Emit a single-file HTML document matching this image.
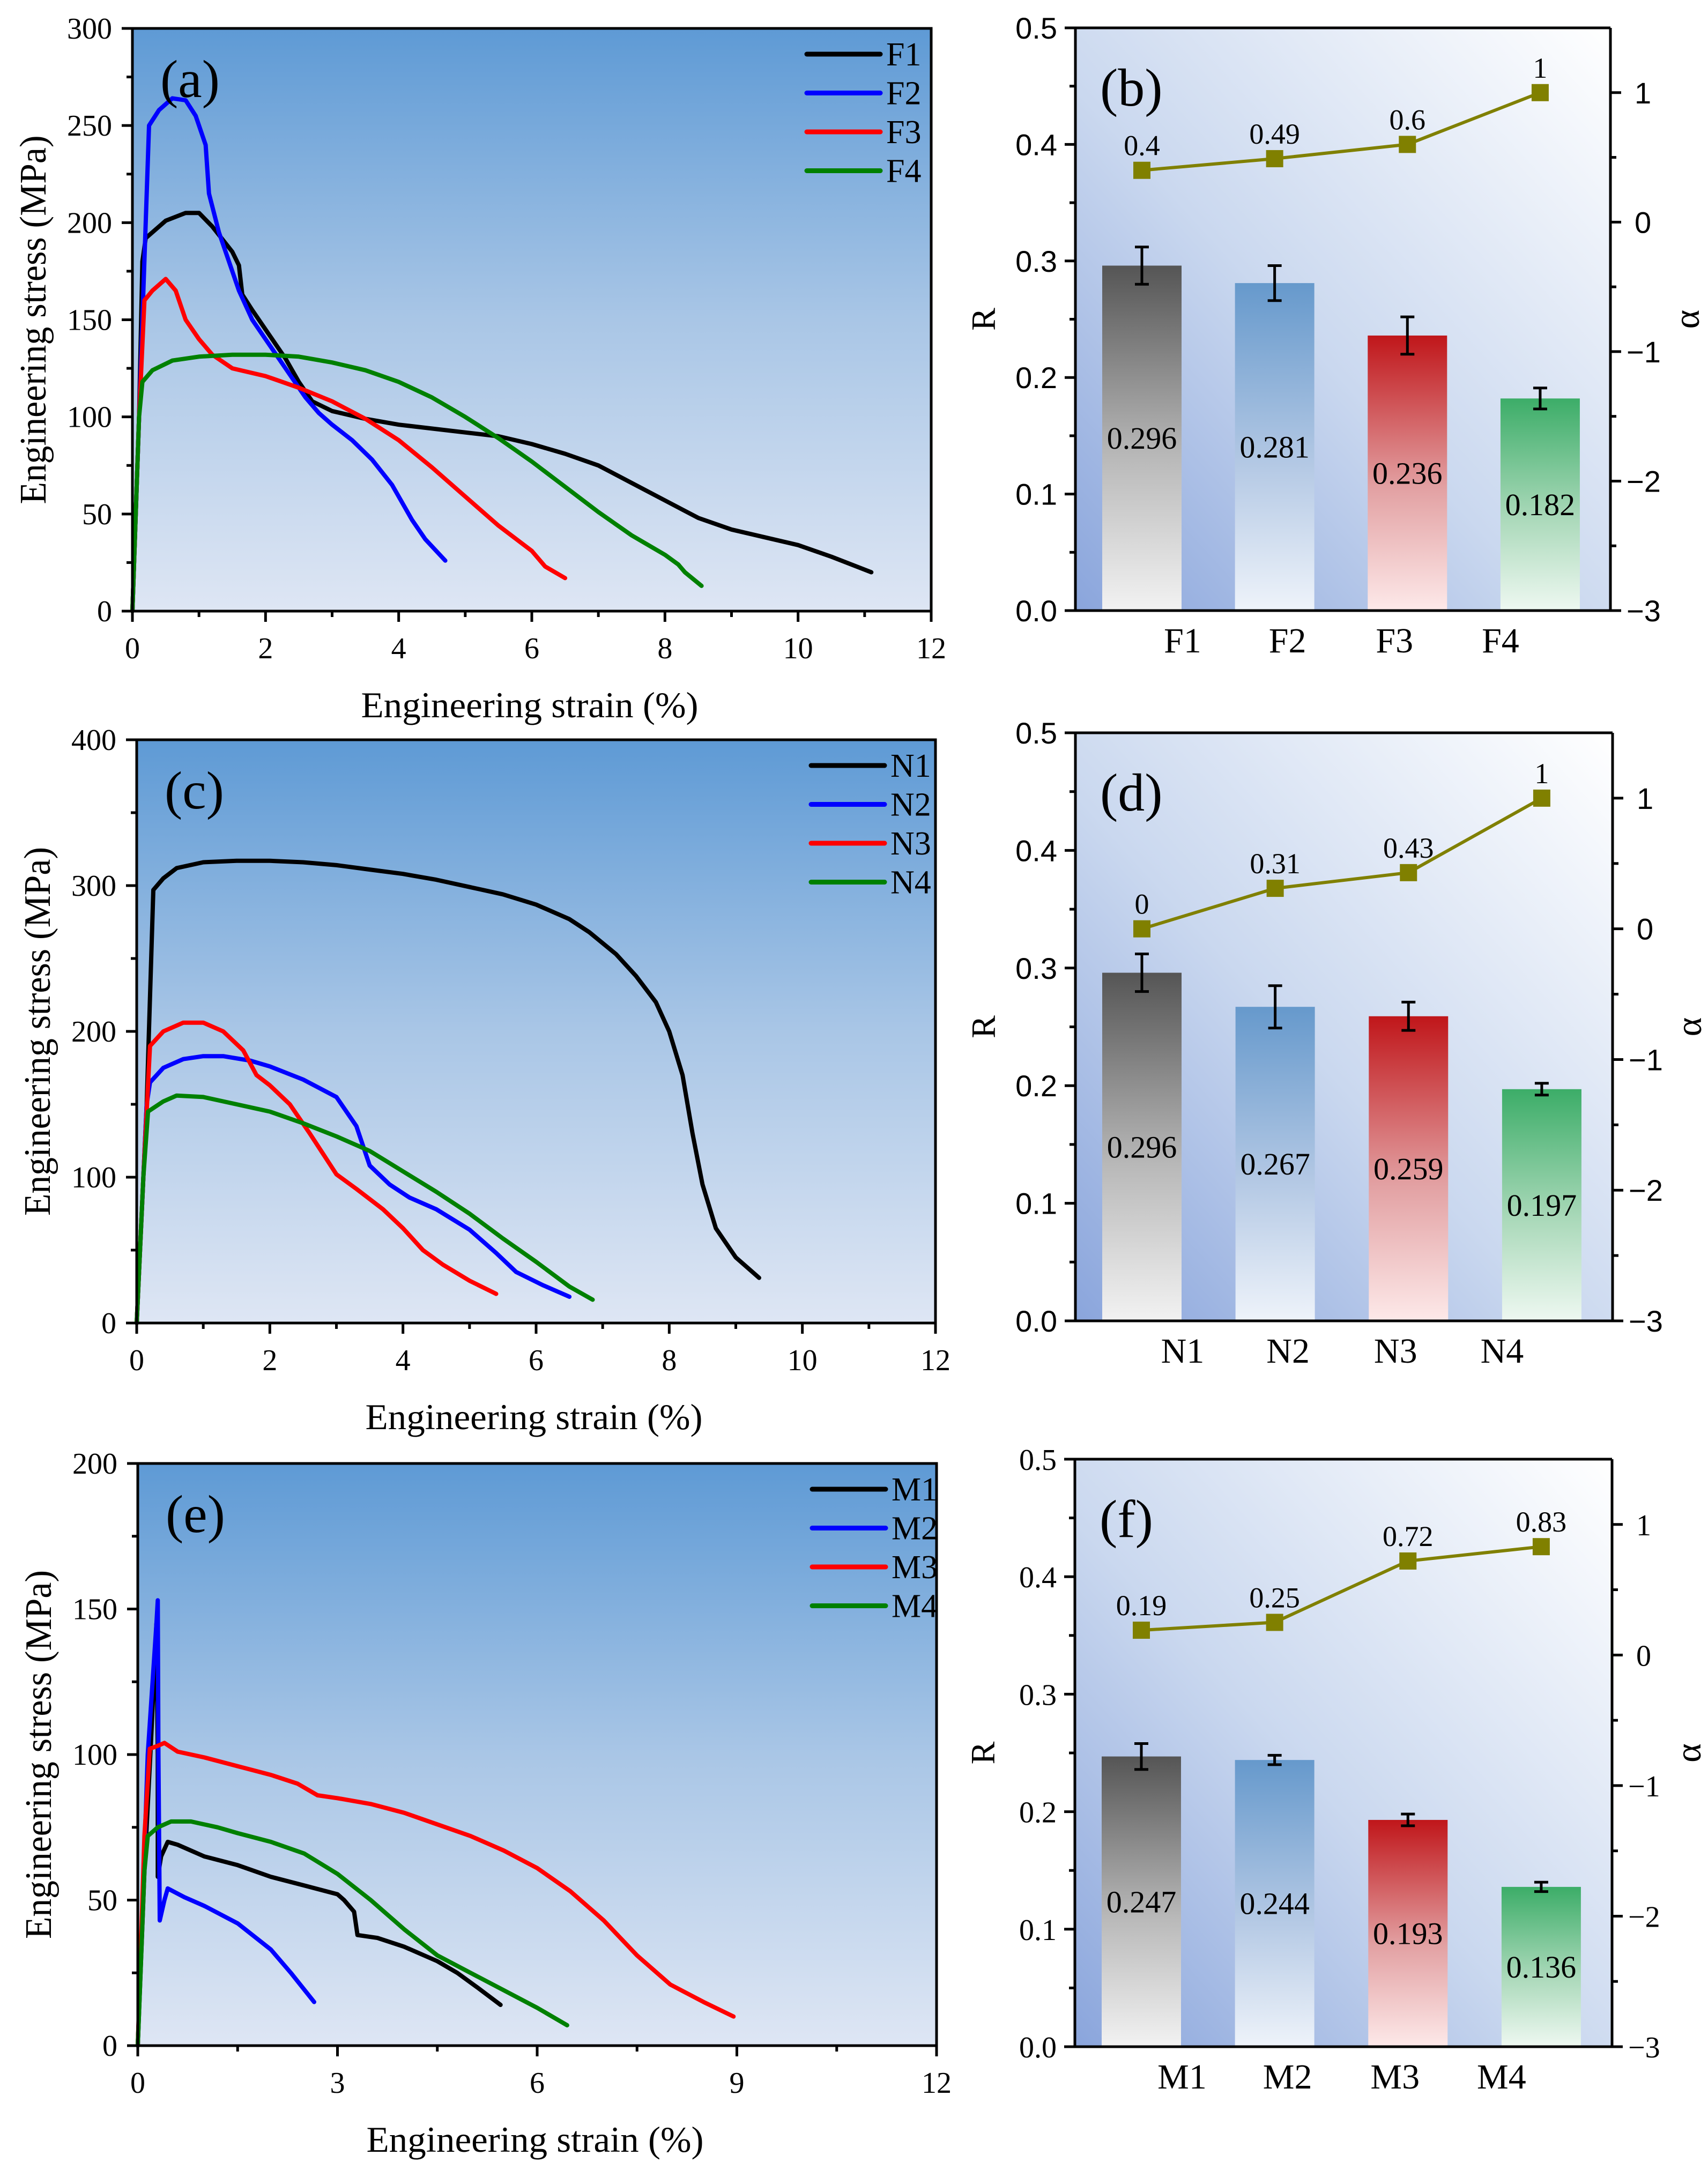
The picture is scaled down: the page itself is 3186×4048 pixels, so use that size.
<!DOCTYPE html>
<html><head><meta charset="utf-8"><style>
html,body{margin:0;padding:0;background:#fff}
svg{display:block}
</style></head><body>
<svg id="fig" xmlns="http://www.w3.org/2000/svg" width="3186" height="4048" viewBox="0 0 3186 4048">
<defs>
<linearGradient id="bgL" x1="0" y1="0" x2="0" y2="1"><stop offset="0" stop-color="#5e9ad5"/><stop offset="0.5" stop-color="#a9c6e6"/><stop offset="1" stop-color="#dee6f4"/></linearGradient>
<linearGradient id="bgR" x1="0" y1="1" x2="1" y2="0"><stop offset="0" stop-color="#8aa5dc"/><stop offset="0.45" stop-color="#cad8ef"/><stop offset="1" stop-color="#ffffff"/></linearGradient>
<linearGradient id="gBlack" x1="0" y1="0" x2="0" y2="1"><stop offset="0" stop-color="#555"/><stop offset="0.55" stop-color="#b8b8b8"/><stop offset="1" stop-color="#f2f2f2"/></linearGradient>
<linearGradient id="gBlue" x1="0" y1="0" x2="0" y2="1"><stop offset="0" stop-color="#6699cc"/><stop offset="0.55" stop-color="#b3c8e4"/><stop offset="1" stop-color="#eef3fa"/></linearGradient>
<linearGradient id="gRed" x1="0" y1="0" x2="0" y2="1"><stop offset="0" stop-color="#c0161a"/><stop offset="0.55" stop-color="#e2a0a2"/><stop offset="1" stop-color="#fde9e9"/></linearGradient>
<linearGradient id="gGreen" x1="0" y1="0" x2="0" y2="1"><stop offset="0" stop-color="#3cad68"/><stop offset="0.55" stop-color="#a8d8b8"/><stop offset="1" stop-color="#eef8f1"/></linearGradient>
</defs>
</svg>
<script>
// ---------- Panel (a) data ----------
const fLabels = ['F1','F2','F3','F4'];
const f1x=[0,0.1,0.15,0.2,0.5,0.8,1.0,1.2,1.5,1.6,1.65,1.8,2.0,2.3,2.5,2.7,3.0,3.5,4.0,5,5.5,6,6.5,7,7.5,8,8.5,9,9.5,10,10.5,11.1];
const f1y=[0,100,180,192,201,205,205,198,185,178,163,155,145,130,118,108,103,99,96,92,90,86,81,75,66,57,48,42,38,34,28,20];
const f2x=[0,0.15,0.25,0.4,0.6,0.8,0.95,1.1,1.15,1.3,1.6,1.8,2.0,2.3,2.6,2.8,3.0,3.3,3.6,3.9,4.2,4.4,4.7];
const f2y=[0,150,250,258,264,263,255,240,215,195,165,150,140,125,110,102,96,88,78,65,47,37,26];
const f3x=[0,0.1,0.18,0.3,0.5,0.65,0.8,1.0,1.2,1.5,2.0,2.5,3.0,3.5,4,4.5,5,5.5,6,6.2,6.5];
const f3y=[0,100,160,165,171,165,150,140,132,125,121,115,108,99,88,74,59,44,31,23,17];
const f4x=[0,0.1,0.15,0.3,0.6,1,1.5,2,2.5,3,3.5,4,4.5,5,5.5,6,6.5,7,7.5,8,8.2,8.3,8.55];
const f4y=[0,100,118,124,129,131,132,132,131,128,124,118,110,100,89,77,64,51,39,29,24,20,13];
// ---------- Panel (c) data ----------
const nLabels = ['N1','N2','N3','N4'];
const n1x=[0,0.05,0.15,0.25,0.4,0.6,1.0,1.5,2,2.5,3,3.5,4,4.5,5,5.5,6,6.5,6.8,7.2,7.5,7.8,8,8.2,8.35,8.5,8.7,9,9.35];
const n1y=[0,50,150,297,305,312,316,317,317,316,314,311,308,304,299,294,287,277,268,253,238,220,200,170,130,95,65,45,31];
const n2x=[0,0.15,0.2,0.4,0.7,1.0,1.3,1.7,2,2.5,3,3.3,3.5,3.8,4.1,4.5,5,5.4,5.7,6.1,6.5];
const n2y=[0,150,165,175,181,183,183,180,176,167,155,135,108,95,86,78,64,48,35,26,18];
const n3x=[0,0.1,0.2,0.4,0.7,1,1.3,1.6,1.8,2.0,2.3,2.6,2.8,3.0,3.3,3.7,4.0,4.3,4.6,5.0,5.4];
const n3y=[0,100,190,200,206,206,200,187,170,163,150,130,116,102,92,78,65,50,40,29,20];
const n4x=[0,0.1,0.17,0.4,0.6,1,1.5,2,2.5,3,3.5,4,4.5,5,5.5,6,6.5,6.85];
const n4y=[0,100,145,152,156,155,150,145,137,128,118,104,90,75,58,42,25,16];
// ---------- Panel (e) data ----------
const mLabels = ['M1','M2','M3','M4'];
const m1x=[0,0.1,0.2,0.28,0.3,0.3,0.35,0.45,0.6,1,1.5,2,2.5,3,3.1,3.25,3.3,3.6,4,4.5,4.8,5.1,5.45];
const m1y=[0,60,105,145,100,58,65,70,69,65,62,58,55,52,50,46,38,37,34,29,25,20,14];
const m2x=[0,0.15,0.28,0.3,0.31,0.33,0.4,0.45,0.7,1,1.5,2,2.3,2.65];
const m2y=[0,100,145,153,100,43,50,54,51,48,42,33,25,15];
const m3x=[0,0.1,0.18,0.3,0.4,0.6,1,1.5,2,2.4,2.7,3,3.5,4,4.5,5,5.5,6,6.5,7,7.5,8,8.5,8.95];
const m3y=[0,72,102,103,104,101,99,96,93,90,86,85,83,80,76,72,67,61,53,43,31,21,15,10];
const m4x=[0,0.1,0.15,0.3,0.5,0.8,1.2,1.5,2,2.5,3,3.5,4,4.5,5,5.5,6,6.45];
const m4y=[0,60,72,75,77,77,75,73,70,66,59,50,40,31,25,19,13,7];
// ---------- Bar panels data ----------
const fR=[0.296,0.281,0.236,0.182]; const fErr=[0.016,0.015,0.016,0.009]; const fAlpha=[0.4,0.49,0.6,1];
const fRText=['0.296','0.281','0.236','0.182']; const fAlphaText=['0.4','0.49','0.6','1'];
const nR=[0.296,0.267,0.259,0.197]; const nErr=[0.016,0.018,0.012,0.005]; const nAlpha=[0,0.31,0.43,1];
const nRText=['0.296','0.267','0.259','0.197']; const nAlphaText=['0','0.31','0.43','1'];
const mR=[0.247,0.244,0.193,0.136]; const mErr=[0.011,0.004,0.005,0.004]; const mAlpha=[0.19,0.25,0.72,0.83];
const mRText=['0.247','0.244','0.193','0.136']; const mAlphaText=['0.19','0.25','0.72','0.83'];
const rTicks=['0.0','0.1','0.2','0.3','0.4','0.5'];
const alphaTicks=['−3','−2','−1','0','1'];

const NS='http://www.w3.org/2000/svg';
const svg=document.getElementById('fig');
function mk(tag,attrs,parent){const e=document.createElementNS(NS,tag);for(const k in attrs)e.setAttribute(k,attrs[k]);(parent||svg).appendChild(e);return e;}
function txt(s,attrs,parent){const e=mk('text',attrs,parent);e.textContent=s;return e;}
const SERIF='"Liberation Serif", serif', SANS='"Liberation Sans", sans-serif';
const colors=['#000000','#0000ff','#ff0000','#008000'];

function linePanel(o){
  const g=mk('g',{});
  
  
  const X=v=>o.L+(v-0)/(o.xmax)*(o.R-o.L);
  const Y=v=>o.B-(v/o.ymax)*(o.B-o.T);
  const bg=mk('rect',{x:o.L,y:o.T,width:o.R-o.L,height:o.B-o.T,fill:'url(#bgL)'},g);
  
  
  o.series.forEach((s,i)=>{
    const d=s[0].map((x,j)=>(j?'L':'M')+X(x).toFixed(1)+' '+Y(s[1][j]).toFixed(1)).join(' ');
    const p=mk('path',{d:d,fill:'none',stroke:colors[i],'stroke-width':8,'stroke-linejoin':'round','stroke-linecap':'round'},g);
    
    
  });
  mk('rect',{x:o.L,y:o.T,width:o.R-o.L,height:o.B-o.T,fill:'none',stroke:'#000','stroke-width':5},g);
  for(let v=0;v<=o.ymax+1e-9;v+=o.ymin){
    const major=Math.abs(v/o.ymaj-Math.round(v/o.ymaj))<1e-6;
    mk('line',{x1:o.L,x2:o.L-(major?20:11),y1:Y(v),y2:Y(v),stroke:'#000','stroke-width':5},g);
    if(major){const t=txt(String(v),{x:o.L-38,y:Y(v)+19,'text-anchor':'end','font-family':SERIF,'font-size':56},g);
      }
  }
  for(let v=0;v<=o.xmax+1e-9;v+=o.xmin){
    const major=Math.abs(v/o.xmaj-Math.round(v/o.xmaj))<1e-6;
    mk('line',{x1:X(v),x2:X(v),y1:o.B,y2:o.B+(major?20:11),stroke:'#000','stroke-width':5},g);
    if(major){const t=txt(String(v),{x:X(v),y:o.B+88,'text-anchor':'middle','font-family':SERIF,'font-size':56},g);
      }
  }
  const xt=txt('Engineering strain (%)',{x:(o.L+o.R)/2-4,y:o.B+198,'text-anchor':'middle','font-family':SERIF,'font-size':68,textLength:629,lengthAdjust:'spacingAndGlyphs'},g);
  
  const cy=(o.T+o.B)/2;
  const yt=txt('Engineering stress (MPa)',{x:0,y:0,'text-anchor':'middle','font-family':SERIF,'font-size':70,textLength:688,lengthAdjust:'spacingAndGlyphs',transform:`translate(${o.L-162},${cy}) rotate(-90)`},g);
  
  const pl=txt(o.tag,{x:o.L+52,y:o.T+128,'font-family':SERIF,'font-size':100},g);
  
  o.labels.forEach((lab,i)=>{
    const ly=o.T+48+i*72.5;
    const l=mk('line',{x1:o.R-232,x2:o.R-95,y1:ly,y2:ly,stroke:colors[i],'stroke-width':9,'stroke-linecap':'round'},g);
    
    const t=txt(lab,{x:o.R-84,y:ly+21,'font-family':SERIF,'font-size':62},g);
    
  });
}

function barPanel(o){
  const g=mk('g',{});
  
  
  const Y=v=>o.B-(v/0.5)*(o.B-o.T);
  const A=v=>o.B-((v+3)/4.5)*(o.B-o.T);
  const step=(o.R-o.L)/4.03;
  const X=i=>o.L+124+i*step;
  const bg=mk('rect',{x:o.L,y:o.T,width:o.R-o.L,height:o.B-o.T,fill:'url(#bgR)'},g);
  
  const grads=['gBlack','gBlue','gRed','gGreen'];
  o.R_.forEach((v,i)=>{
    const b=mk('rect',{x:X(i)-74,y:Y(v),width:148,height:o.B-Y(v),fill:`url(#${grads[i]})`},g);
    
    const e=o.err[i];
    const eb=mk('path',{d:`M${X(i)-13} ${Y(v+e)} H${X(i)+13} M${X(i)} ${Y(v+e)} V${Y(v-e)} M${X(i)-13} ${Y(v-e)} H${X(i)+13}`,stroke:'#000','stroke-width':5,fill:'none'},g);
    
    const t=txt(o.rText[i],{x:X(i),y:Y(v/2)+20,'text-anchor':'middle','font-family':SERIF,'font-size':58},g);
    
    const c=txt(o.labels[i],{x:X(i)+(i===0?76:i===1?24:i===2?-24:-74),y:o.B+78,'text-anchor':'middle','font-family':SERIF,'font-size':66},g);
    
  });
  const d=o.alpha.map((a,i)=>(i?'L':'M')+X(i)+' '+A(a).toFixed(1)).join(' ');
  const ln=mk('path',{d:d,fill:'none',stroke:'#808000','stroke-width':6},g);
  
  o.alpha.forEach((a,i)=>{
    const m=mk('rect',{x:X(i)-16,y:A(a)-16,width:32,height:32,fill:'#808000'},g);
    
    const t=txt(o.aText[i],{x:X(i),y:A(a)-28,'text-anchor':'middle','font-family':SERIF,'font-size':54},g);
    
  });
  mk('line',{x1:o.L,x2:o.R,y1:o.T,y2:o.T,stroke:'#000','stroke-width':5},g);
  mk('line',{x1:o.L,x2:o.R,y1:o.B,y2:o.B,stroke:'#000','stroke-width':5},g);
  mk('line',{x1:o.L,x2:o.L,y1:o.T,y2:o.B,stroke:'#000','stroke-width':5},g);
  mk('line',{x1:o.R,x2:o.R,y1:o.T,y2:o.B,stroke:'#000','stroke-width':5},g);
  const ff=o.serifTicks?SERIF:SANS;
  for(let k=0;k<=10;k++){
    const v=k*0.05, major=k%2===0;
    mk('line',{x1:o.L,x2:o.L-(major?20:11),y1:Y(v),y2:Y(v),stroke:'#000','stroke-width':5},g);
    if(major){const t=txt(rTicks[k/2],{x:o.L-34,y:Y(v)+20,'text-anchor':'end','font-family':ff,'font-size':56},g);
      }
  }
  for(let k=0;k<=8;k++){
    const v=-3+k*0.5, major=k%2===0;
    mk('line',{x1:o.R,x2:o.R+(major?20:11),y1:A(v),y2:A(v),stroke:'#000','stroke-width':5},g);
    if(major){const t=txt(alphaTicks[k/2],{x:o.R+(alphaTicks[k/2].length>1?30:45),y:A(v)+20,'font-family':ff,'font-size':56},g);
      }
  }
  const cy=(o.T+o.B)/2;
  const rt=txt('R',{x:0,y:0,'text-anchor':'middle','font-family':SERIF,'font-size':64,transform:`translate(${o.L-150},${cy}) rotate(-90)`},g);
  
  const at=txt('α',{x:0,y:0,'text-anchor':'middle','font-family':SERIF,'font-size':68,transform:`translate(${o.R+165},${cy}) rotate(-90)`},g);
  
  const pl=txt(o.tag,{x:o.L+46,y:o.T+145,'font-family':SERIF,'font-size':100},g);
  
}

linePanel({name:'panel-a-stress-strain',tag:'(a)',L:247,R:1737,T:53,B:1140,xmax:12,xmaj:2,xmin:1,ymax:300,ymaj:50,ymin:25,labels:fLabels,series:[[f1x,f1y],[f2x,f2y],[f3x,f3y],[f4x,f4y]]});
linePanel({name:'panel-c-stress-strain',tag:'(c)',L:255,R:1745,T:1380,B:2468,xmax:12,xmaj:2,xmin:1,ymax:400,ymaj:100,ymin:50,labels:nLabels,series:[[n1x,n1y],[n2x,n2y],[n3x,n3y],[n4x,n4y]]});
linePanel({name:'panel-e-stress-strain',tag:'(e)',L:257,R:1747,T:2730,B:3816,xmax:12,xmaj:3,xmin:1.5,ymax:200,ymaj:50,ymin:25,labels:mLabels,series:[[m1x,m1y],[m2x,m2y],[m3x,m3y],[m4x,m4y]]});
barPanel({name:'panel-b-r-alpha',tag:'(b)',L:2006,R:3004,T:52,B:1139,labels:fLabels,R_:fR,err:fErr,alpha:fAlpha,rText:fRText,aText:fAlphaText,serifTicks:false});
barPanel({name:'panel-d-r-alpha',tag:'(d)',L:2006,R:3008,T:1367,B:2464,labels:nLabels,R_:nR,err:nErr,alpha:nAlpha,rText:nRText,aText:nAlphaText,serifTicks:false});
barPanel({name:'panel-f-r-alpha',tag:'(f)',L:2005,R:3007,T:2722,B:3818,labels:mLabels,R_:mR,err:mErr,alpha:mAlpha,rText:mRText,aText:mAlphaText,serifTicks:true});
</script>
</body></html>
